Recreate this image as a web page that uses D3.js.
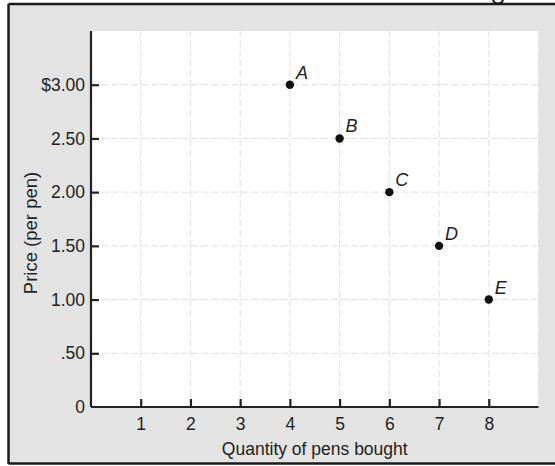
<html>
<head>
  <script src="https://d3js.org/d3.v7.min.js"></script>
</head>
<style>
  body {
    margin: 0;
    background: #fff;
  }
  text {
    font-family: 'Liberation Sans', Arial, sans-serif;
    fill: #222;
  }
  .axis path,
  .axis line {
    stroke: #222;
    stroke-width: 2.2;
  }
  .grid line {
    stroke: #e0e0e0;
    stroke-width: 1;
    stroke-dasharray: 7, 3;
  }
  .pt-label {
    font-style: italic;
  }
</style>
<body>
  <script>
    // values
    var quantities = [4, 5, 6, 7, 8];
    var prices = [3.00, 2.50, 2.00, 1.50, 1.00];
    var pointNames = ['A', 'B', 'C', 'D', 'E'];

    var xTicks = [1, 2, 3, 4, 5, 6, 7, 8];
    var yTicks = [0, 0.5, 1, 1.5, 2, 2.5, 3];
    var yTickLabels = ['0', '.50', '1.00', '1.50', '2.00', '2.50', '$3.00'];

    var width = 555,
        height = 466;

    var svg = d3.select('body').append('svg')
      .attr('width', width)
      .attr('height', height);

    var x = d3.scaleLinear().domain([0, 9]).range([91, 538.5]);
    var y = d3.scaleLinear().domain([0, 3.5]).range([407, 31]);

    // scanned page background + frame
    svg.append('rect')
      .attr('x', 8.5).attr('y', 4.5)
      .attr('width', width).attr('height', 459)
      .attr('fill', '#e3e3e3');

    // plot paper
    svg.append('rect')
      .attr('x', x(0)).attr('y', y(3.5))
      .attr('width', x(9) - x(0)).attr('height', y(0) - y(3.5))
      .attr('fill', '#fff');

    // grid
    var grid = svg.append('g').attr('class', 'grid');
    grid.selectAll('.vx').data(xTicks.concat([9])).enter().append('line')
      .attr('x1', d => x(d)).attr('x2', d => x(d))
      .attr('y1', y(0)).attr('y2', y(3.5));
    grid.selectAll('.hy').data(yTicks.slice(1)).enter().append('line')
      .attr('x1', x(0)).attr('x2', x(9))
      .attr('y1', d => y(d)).attr('y2', d => y(d));

    // frame lines
    svg.append('line').attr('x1', 8.5).attr('x2', width).attr('y1', 4).attr('y2', 4)
      .attr('stroke', '#1a1a1a').attr('stroke-width', 2.5);
    svg.append('line').attr('x1', 8.5).attr('x2', 8.5).attr('y1', 4).attr('y2', 464)
      .attr('stroke', '#1a1a1a').attr('stroke-width', 2.5);
    svg.append('line').attr('x1', 8.5).attr('x2', width).attr('y1', 463.5).attr('y2', 463.5)
      .attr('stroke', '#1a1a1a').attr('stroke-width', 2.5);

    // bit of a letter's descender from the page above
    svg.append('path')
      .attr('d', 'M493,0 Q494,3.5 498,3.5 Q502,3.5 503,0')
      .attr('fill', 'none')
      .attr('stroke', '#1a1a1a')
      .attr('stroke-width', 2);

    // axes
    var xAxis = d3.axisBottom(x)
      .tickValues(xTicks)
      .tickSize(-8)
      .tickPadding(11)
      .tickFormat(d3.format('d'));

    var yAxis = d3.axisLeft(y)
      .tickValues(yTicks.slice(1))
      .tickSize(-8)
      .tickPadding(6)
      .tickFormat(d => yTickLabels[yTicks.indexOf(d)]);

    var gx = svg.append('g')
      .attr('class', 'axis')
      .attr('transform', 'translate(0,' + y(0) + ')')
      .call(xAxis);
    gx.select('.domain').attr('d', 'M' + x(0) + ',0H' + x(9));

    var gy = svg.append('g')
      .attr('class', 'axis')
      .attr('transform', 'translate(' + x(0) + ',0)')
      .call(yAxis);
    gy.select('.domain').attr('d', 'M0,' + y(0) + 'V' + y(3.5));

    svg.selectAll('.axis text')
      .style('font-size', '17.5px')
      .attr('fill', '#222');

    // "0" at the origin
    svg.append('text')
      .attr('x', x(0) - 6).attr('y', y(0))
      .attr('text-anchor', 'end')
      .attr('dy', '0.32em')
      .style('font-size', '17.5px')
      .text(yTickLabels[0]);

    // axis titles
    svg.append('text')
      .attr('x', (x(0) + x(9)) / 2).attr('y', 455)
      .attr('text-anchor', 'middle')
      .style('font-size', '17.5px')
      .text('Quantity of pens bought');

    svg.append('text')
      .attr('transform', 'translate(31,233) rotate(-90)')
      .attr('text-anchor', 'middle')
      .attr('dy', '0.35em')
      .style('font-size', '18.5px')
      .text('Price (per pen)');

    // points
    var pts = quantities.map((q, i) => ({q: q, p: prices[i], name: pointNames[i]}));

    svg.selectAll('.dot').data(pts).enter().append('circle')
      .attr('class', 'dot')
      .attr('cx', d => x(d.q))
      .attr('cy', d => y(d.p))
      .attr('r', 4.2)
      .attr('fill', '#111');

    svg.selectAll('.pt-label').data(pts).enter().append('text')
      .attr('class', 'pt-label')
      .attr('x', d => x(d.q) + 6)
      .attr('y', d => y(d.p) - 6)
      .style('font-size', '18px')
      .text(d => d.name);
  </script>
</body>
</html>
